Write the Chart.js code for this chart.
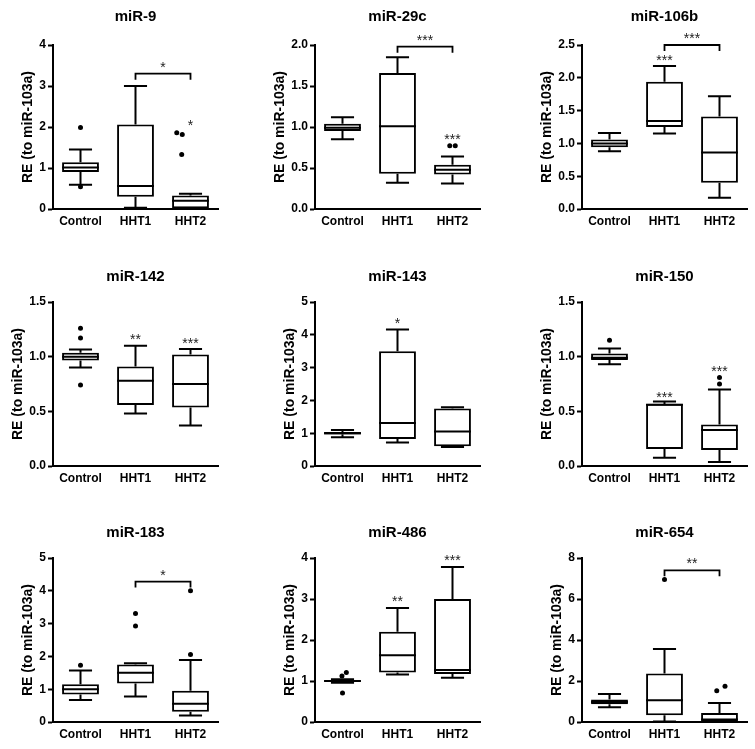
<!DOCTYPE html>
<html>
<head>
<meta charset="utf-8">
<script src="https://cdn.jsdelivr.net/npm/chart.js@4.4.1/dist/chart.umd.min.js"></script>
<style>
  body { margin: 0; background: #fff; }
  #wrap { position: relative; width: 755px; height: 749px; }
  .panel { position: absolute; }
</style>
</head>
<body>
<div id="wrap"></div>
<script>
// ---- data ----
const groups = ["Control", "HHT1", "HHT2"];
const titles = ["miR-9", "miR-29c", "miR-106b", "miR-142", "miR-143", "miR-150", "miR-183", "miR-486", "miR-654"];
const yMax  = [4, 2, 2.5, 1.5, 5, 1.5, 5, 4, 8];
const yStep = [1, 0.5, 0.5, 0.5, 1, 0.5, 1, 1, 2];

// per panel: [Control, HHT1, HHT2]
const whiskerLow = [
  [0.59, 0.03, 0.02], [0.85, 0.32, 0.31], [0.88, 1.15, 0.17],
  [0.90, 0.48, 0.37], [0.88, 0.72, 0.58], [0.93, 0.076, 0.036],
  [0.67, 0.78, 0.20], [0.96, 1.16, 1.08], [0.72, 0.02, 0.00]
];
const boxLow = [
  [0.90, 0.30, 0.02], [0.95, 0.43, 0.42], [0.94, 1.25, 0.40],
  [0.965, 0.557, 0.535], [0.96, 0.82, 0.60], [0.97, 0.155, 0.146],
  [0.84, 1.17, 0.31], [0.98, 1.21, 1.17], [0.87, 0.33, 0.02]
];
const medians = [
  [1.01, 0.56, 0.20], [0.99, 1.01, 0.48], [1.00, 1.34, 0.86],
  [1.00, 0.78, 0.75], [1.00, 1.31, 1.05], [0.99, 0.56, 0.33],
  [1.00, 1.50, 0.56], [1.00, 1.63, 1.27], [0.98, 1.06, 0.12]
];
const boxHigh = [
  [1.14, 2.06, 0.33], [1.04, 1.66, 0.54], [1.06, 1.94, 1.41],
  [1.035, 0.91, 1.02], [1.04, 3.50, 1.75], [1.03, 0.57, 0.38],
  [1.15, 1.75, 0.95], [1.02, 2.20, 3.00], [1.10, 2.36, 0.44]
];
const whiskerHigh = [
  [1.45, 3.00, 0.37], [1.12, 1.85, 0.64], [1.16, 2.18, 1.72],
  [1.065, 1.10, 1.07], [1.10, 4.16, 1.79], [1.075, 0.59, 0.70],
  [1.57, 1.79, 1.89], [1.04, 2.78, 3.78], [1.37, 3.56, 0.93]
];
// outliers: [group index, value]
const outliers = [
  [[0, 1.99], [0, 0.54], [2, 1.86], [2, 1.82], [2, 1.33]],
  [[2, 0.77], [2, 0.77]],
  [],
  [[0, 1.26], [0, 1.17], [0, 0.74]],
  [],
  [[0, 1.15], [2, 0.81], [2, 0.75]],
  [[0, 1.73], [1, 3.31], [1, 2.93], [2, 4.00], [2, 2.06]],
  [[0, 1.21], [0, 1.12], [0, 0.71]],
  [[1, 6.95], [2, 1.52], [2, 1.75]]
];
// sideways spread of overlapping dots (fraction of a category)
const outlierJitter = [
  [0, 0, -0.25, -0.15, -0.16], [-0.05, 0.05], [], [0, 0, 0], [],
  [0, 0, 0], [0, 0, 0, 0, 0], [0.07, -0.01, 0], [0, -0.05, 0.1]
];
// significance marks above single groups
const groupStars = [
  [null, null, "*"], [null, null, "***"], [null, "***", null],
  [null, "**", "***"], [null, "*", null], [null, "***", "***"],
  [null, null, null], [null, "**", "***"], [null, null, null]
];
const groupStarLevel = [
  [0, 0, 2.12], [0, 0, 0.89], [0, 2.32, 0],
  [0, 1.19, 1.15], [0, 4.45, 0], [0, 0.66, 0.90],
  [0, 0, 0], [0, 3.02, 4.03], [0, 0, 0]
];
// HHT1 vs HHT2 bracket
const bracketLevel = [3.3, 1.98, 2.5, null, null, null, 4.28, null, 7.4];
const bracketStars = ["*", "***", "***", null, null, null, "*", null, "**"];

// ---- layout ----
const FONT = "'Liberation Sans', Arial, Helvetica, sans-serif";
Chart.defaults.font.family = FONT;
Chart.defaults.color = "#000";

const colX = [53, 315, 582];
const rowY = [45, 302, 558];
const titleGap = [28, 25, 25];
const plotW = 165, plotH = 164;
const padL = 58, padT = 45, padR = 8, padB = 28;

const boxParts = {
  id: "boxParts",
  afterDatasetsDraw(chart, args, opts) {
    const p = opts.panel;
    const ctx = chart.ctx;
    const x = chart.scales.x;
    const y = chart.scales.y;
    const bars = chart.getDatasetMeta(0).data;
    const capW = (x.getPixelForValue(1) - x.getPixelForValue(0)) * 0.42;
    ctx.save();
    ctx.strokeStyle = "#000";
    ctx.lineWidth = 2;
    ctx.beginPath();
    groups.forEach((g, i) => {
      const cx = bars[i].x, bw = bars[i].width;
      const hi = y.getPixelForValue(whiskerHigh[p][i]);
      const lo = y.getPixelForValue(whiskerLow[p][i]);
      ctx.moveTo(cx, y.getPixelForValue(boxHigh[p][i]));
      ctx.lineTo(cx, hi);
      ctx.moveTo(cx - capW / 2, hi);
      ctx.lineTo(cx + capW / 2, hi);
      ctx.moveTo(cx, y.getPixelForValue(boxLow[p][i]));
      ctx.lineTo(cx, lo);
      ctx.moveTo(cx - capW / 2, lo);
      ctx.lineTo(cx + capW / 2, lo);
      const m = y.getPixelForValue(medians[p][i]);
      ctx.moveTo(cx - bw / 2, m);
      ctx.lineTo(cx + bw / 2, m);
    });
    ctx.stroke();

    ctx.fillStyle = "#222";
    ctx.font = "14px " + FONT;
    ctx.textAlign = "center";
    ctx.textBaseline = "alphabetic";
    groups.forEach((g, i) => {
      if (!groupStars[p][i]) return;
      ctx.fillText(groupStars[p][i], bars[i].x, y.getPixelForValue(groupStarLevel[p][i]) + 8);
    });
    if (bracketLevel[p] !== null) {
      const by = y.getPixelForValue(bracketLevel[p]);
      const x1 = bars[1].x, x2 = bars[2].x;
      ctx.beginPath();
      ctx.lineWidth = 1.8;
      ctx.moveTo(x1, by + 6); ctx.lineTo(x1, by); ctx.lineTo(x2, by); ctx.lineTo(x2, by + 6);
      ctx.stroke();
      ctx.fillText(bracketStars[p], (x1 + x2) / 2, by - 2);
    }
    ctx.restore();
  },
  afterDraw(chart, args, opts) {
    const p = opts.panel;
    const ctx = chart.ctx;
    const a = chart.chartArea;
    ctx.save();
    ctx.fillStyle = "#000";
    ctx.textAlign = "center";
    ctx.textBaseline = "middle";
    ctx.font = "bold 15px " + FONT;
    ctx.fillText(titles[p], (a.left + a.right) / 2, a.top - titleGap[Math.floor(p / 3)]);
    ctx.font = "bold 12px " + FONT;
    const w = Math.max(...chart.scales.y.ticks.map(t => ctx.measureText(String(t.label)).width));
    ctx.font = "bold 14px " + FONT;
    ctx.translate(a.left - w - 18, (a.top + a.bottom) / 2);
    ctx.rotate(-Math.PI / 2);
    ctx.fillText("RE (to miR-103a)", 0, 0);
    ctx.restore();
  }
};

const wrap = document.getElementById("wrap");

titles.forEach((t, p) => {
  const col = p % 3, row = Math.floor(p / 3);
  const div = document.createElement("div");
  div.className = "panel";
  div.style.left = (colX[col] - padL) + "px";
  div.style.top = (rowY[row] - padT) + "px";
  const canvas = document.createElement("canvas");
  canvas.width = padL + plotW + padR;
  canvas.height = padT + plotH + padB;
  div.appendChild(canvas);
  wrap.appendChild(div);

  new Chart(canvas, {
    type: "bar",
    data: {
      datasets: [
        {
          type: "bar",
          data: groups.map((g, i) => ({ x: i, y: [boxLow[p][i], boxHigh[p][i]] })),
          backgroundColor: "#fff",
          borderColor: "#000",
          borderWidth: 2,
          borderSkipped: false,
          grouped: false,
          barPercentage: 0.67,
          categoryPercentage: 1
        },
        {
          type: "scatter",
          data: outliers[p].map((o, k) => ({ x: o[0] + outlierJitter[p][k], y: o[1] })),
          pointRadius: 2.5,
          pointBackgroundColor: "#000",
          pointBorderWidth: 0,
          showLine: false,
          clip: false
        }
      ]
    },
    options: {
      responsive: false,
      animation: false,
      events: [],
      layout: { padding: { top: padT, right: padR, left: 0, bottom: 0 } },
      plugins: {
        legend: { display: false },
        tooltip: { enabled: false },
        boxParts: { panel: p }
      },
      scales: {
        x: {
          type: "linear",
          min: -0.5,
          max: 2.5,
          offset: false,
          afterBuildTicks(s) { s.ticks = groups.map((g, i) => ({ value: i })); },
          grid: { display: false, drawTicks: false },
          border: { display: true, color: "#000", width: 2 },
          ticks: {
            color: "#000",
            font: { size: 12, weight: "bold" },
            padding: 5,
            autoSkip: false,
            maxRotation: 0,
            callback: v => groups[v]
          },
          afterFit(s) { s.height = padB; }
        },
        y: {
          min: 0,
          max: yMax[p],
          grid: { drawOnChartArea: false, tickLength: 5, tickWidth: 2, tickColor: "#000" },
          border: { color: "#000", width: 2 },
          ticks: {
            stepSize: yStep[p],
            color: "#000",
            padding: 2,
            font: { size: 12, weight: "bold" },
            callback: v => yStep[p] < 1 ? v.toFixed(1) : v
          },
          afterFit(s) { s.width = padL; }
        }
      }
    },
    plugins: [boxParts]
  });
});
</script>
</body>
</html>
